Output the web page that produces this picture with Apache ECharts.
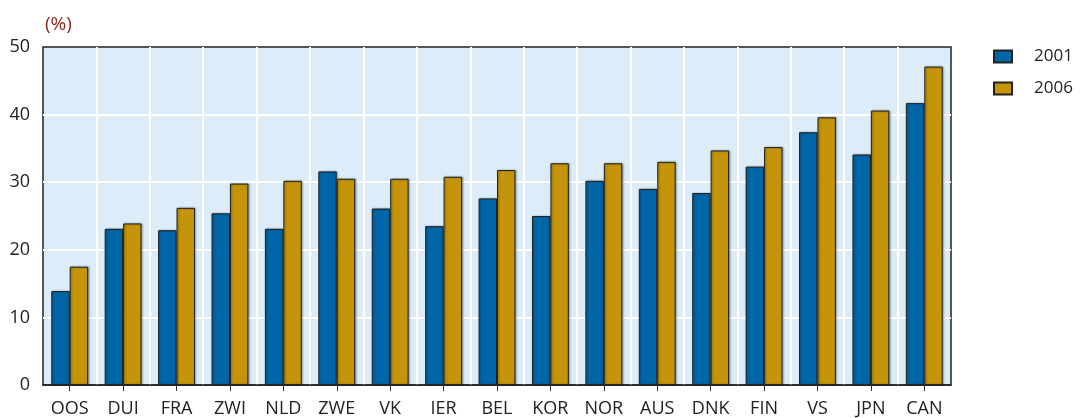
<!DOCTYPE html>
<html>
<head>
<meta charset="utf-8">
<script src="https://cdn.jsdelivr.net/npm/echarts@6/dist/echarts.min.js"></script>
<style>
  html, body { margin: 0; padding: 0; background: #fff; }
  #main { width: 1080px; height: 418px; }
</style>
</head>
<body>
<div id="main"></div>
<script>
// landen
const categories = ['OOS', 'DUI', 'FRA', 'ZWI', 'NLD', 'ZWE', 'VK', 'IER', 'BEL', 'KOR', 'NOR', 'AUS', 'DNK', 'FIN', 'VS', 'JPN', 'CAN'];
// percentages per jaar
const values2001 = [13.9, 23.1, 22.9, 25.4, 23.1, 31.6, 26.1, 23.5, 27.6, 25.0, 30.2, 29.0, 28.4, 32.3, 37.4, 34.1, 41.7];
const values2006 = [17.5, 23.9, 26.2, 29.8, 30.2, 30.5, 30.5, 30.8, 31.8, 32.8, 32.8, 33.0, 34.7, 35.2, 39.6, 40.6, 47.1];
const yTicks = [0, 10, 20, 30, 40, 50];

const myChart = echarts.init(document.getElementById('main'), null, { renderer: 'canvas' });

const barBorder = {
  borderColor: '#222',
  borderWidth: 1,
  shadowColor: 'rgba(0,0,0,0.35)',
  shadowBlur: 2,
  shadowOffsetX: 1,
  shadowOffsetY: 0
};

const option = {
  animation: false,
  textStyle: { fontFamily: 'Open Sans, Noto Sans, sans-serif' },
  title: {
    text: '(%)',
    left: 40,
    top: 10,
    textStyle: { color: '#8b2a1a', fontSize: 19, fontWeight: 'normal', fontFamily: 'Open Sans, sans-serif' }
  },
  legend: {
    orient: 'vertical',
    left: 988,
    top: 43,
    itemWidth: 18,
    itemHeight: 12,
    itemGap: 15,
    icon: 'rect',
    textStyle: { color: '#222', fontSize: 17, padding: [0, 0, 0, 17] },
    data: ['2001', '2006']
  },
  grid: {
    show: true,
    left: 43,
    right: 129,
    top: 47,
    bottom: 32,
    backgroundColor: '#dcedf9',
    borderColor: '#222',
    borderWidth: 1.5
  },
  xAxis: {
    type: 'category',
    data: categories,
    axisLine: { lineStyle: { color: '#222', width: 1.5 } },
    axisTick: { show: true, alignWithLabel: true, length: 6, lineStyle: { color: '#333' } },
    axisLabel: { color: '#222', fontSize: 18, margin: 15, interval: 0 },
    splitLine: { show: true, showMinLine: false, showMaxLine: false, lineStyle: { color: '#fff', width: 2 } }
  },
  yAxis: {
    type: 'value',
    min: yTicks[0],
    max: yTicks[yTicks.length - 1],
    interval: 10,
    axisLine: { show: false },
    axisTick: { show: false },
    axisLabel: { color: '#222', fontSize: 18, margin: 13 },
    splitLine: { show: true, showMinLine: false, showMaxLine: false, lineStyle: { color: '#fff', width: 2 } }
  },
  series: [
    {
      name: '2001',
      type: 'bar',
      data: values2001,
      barGap: '0%',
      barCategoryGap: '31%',
      itemStyle: Object.assign({ color: '#0066a8' }, barBorder)
    },
    {
      name: '2006',
      type: 'bar',
      data: values2006,
      barGap: '0%',
      barCategoryGap: '31%',
      itemStyle: Object.assign({ color: '#c4940a' }, barBorder)
    }
  ]
};

myChart.setOption(option);
</script>
</body>
</html>
